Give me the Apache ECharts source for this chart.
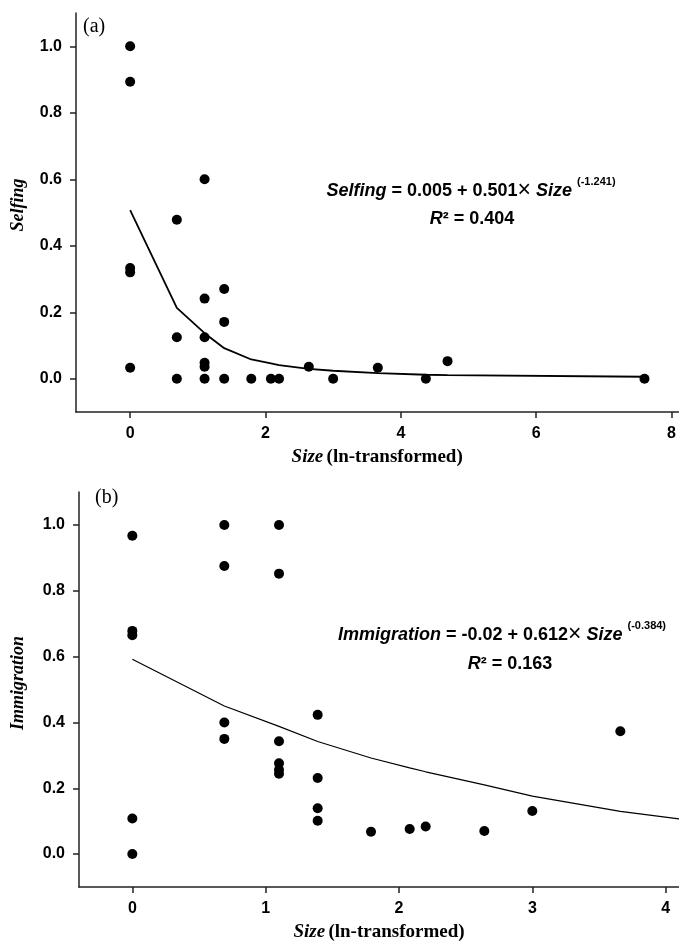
<!DOCTYPE html>
<html lang="en">
<head>
    <meta charset="UTF-8">
    <title>Selfing and immigration vs size</title>
    <script src="https://cdn.jsdelivr.net/npm/echarts@6/dist/echarts.min.js"></script>
    <style>
        html, body { margin: 0; padding: 0; background: #fff; }
    </style>
</head>
<body>

<div id="main" style="width: 679px;height:943px;"></div>

<script>
    // (a) selfing, points
    var selfSize = [0, 0, 0, 0, 0,
        0.69, 0.69, 0.69,
        1.10, 1.10, 1.10, 1.10, 1.10, 1.10,
        1.39, 1.39, 1.39,
        1.79, 2.08, 2.20, 2.64, 3.00, 3.66, 4.37, 4.69, 7.60];
    var selfValue = [1.0, 0.893, 0.333, 0.32, 0.033,
        0.478, 0.125, 0,
        0.6, 0.241, 0.125, 0.048, 0.036, 0,
        0.27, 0.171, 0,
        0, 0, 0, 0.036, 0, 0.033, 0, 0.053, 0];
    // (a) fitted curve
    var selfFitSize = [0, 0.69, 1.10, 1.39, 1.79, 2.08, 2.20, 2.64, 3.00, 3.66, 4.37, 4.69, 7.60];
    var selfFitValue = [0.507, 0.213, 0.137, 0.092, 0.058, 0.046, 0.041, 0.030, 0.024, 0.017, 0.012, 0.011, 0.006];

    // (b) immigration, points
    var immSize = [0, 0, 0, 0, 0,
        0.69, 0.69, 0.69, 0.69,
        1.10, 1.10, 1.10, 1.10, 1.10, 1.10,
        1.39, 1.39, 1.39, 1.39,
        1.79, 2.08, 2.20, 2.64, 3.00, 3.66];
    var immValue = [0.967, 0.678, 0.665, 0.108, 0,
        1.0, 0.875, 0.40, 0.35,
        1.0, 0.852, 0.343, 0.276, 0.256, 0.244,
        0.423, 0.231, 0.139, 0.101,
        0.068, 0.076, 0.084, 0.070, 0.131, 0.373];
    // (b) fitted curve
    var immFitSize = [0, 0.69, 1.10, 1.39, 1.79, 2.08, 2.20, 2.64, 3.00, 3.66, 4.10];
    var immFitValue = [0.592, 0.450, 0.388, 0.342, 0.292, 0.262, 0.250, 0.210, 0.176, 0.130, 0.107];

    // tick labels
    var yTicks = [0, 0.2, 0.4, 0.6, 0.8, 1.0];
    var xTicksA = [0, 2, 4, 6, 8];
    var xTicksB = [0, 1, 2, 3, 4];

    function pairs(xs, ys) {
        return xs.map(function (x, i) {
            return [x, ys[i]];
        });
    }

    var axisColor = '#222';
    var labelFont = {color: '#000', fontWeight: 'bold', fontSize: 16, fontFamily: '"Liberation Sans", Arial, sans-serif'};
    var serif = '"Liberation Serif", "Times New Roman", serif';
    var sans = '"Liberation Sans", Arial, sans-serif';

    function xAxis(grid, min, max, ticks) {
        return {
            type: 'value', gridIndex: grid, min: min, max: max,
            splitLine: {show: false},
            axisLine: {onZero: false, lineStyle: {color: axisColor, width: 1.5}},
            axisTick: {customValues: ticks, length: 6, lineStyle: {color: axisColor, width: 1.5}},
            axisLabel: Object.assign({customValues: ticks, margin: 14}, labelFont),
            name: '{i|Size} {b|(ln-transformed)}',
            nameLocation: 'middle',
            nameGap: 36,
            nameTextStyle: {
                rich: {
                    i: {fontStyle: 'italic', fontWeight: 'bold', fontSize: 19, fontFamily: serif, color: '#000'},
                    b: {fontWeight: 'bold', fontSize: 19, fontFamily: serif, color: '#000'}
                }
            }
        };
    }

    function yAxis(grid) {
        return {
            type: 'value', gridIndex: grid, min: -0.1, max: 1.1,
            splitLine: {show: false},
            axisLine: {show: true, onZero: false, lineStyle: {color: axisColor, width: 1.5}},
            axisTick: {show: true, customValues: yTicks, length: 6, lineStyle: {color: axisColor, width: 1.5}},
            axisLabel: Object.assign({
                customValues: yTicks, margin: 14,
                formatter: function (v) { return v.toFixed(1); }
            }, labelFont)
        };
    }

    // rich styles for equations
    var eqRich = {
        t: {fontWeight: 'bold', fontSize: 18, fontFamily: sans, lineHeight: 30, fill: '#000'},
        i: {fontWeight: 'bold', fontStyle: 'italic', fontSize: 18, fontFamily: sans, lineHeight: 30, fill: '#000'},
        x: {fontWeight: 'normal', fontSize: 23, fontFamily: sans, lineHeight: 30, fill: '#000'},
        s: {fontWeight: 'bold', fontSize: 11, fontFamily: sans, lineHeight: 14, verticalAlign: 'top', fill: '#000'}
    };

    function eqText(x, y, text) {
        return {
            type: 'text', x: x, y: y,
            style: {
                text: text, rich: eqRich, align: 'center', verticalAlign: 'middle',
                font: 'bold 18px ' + sans, fill: '#000'
            }
        };
    }

    var option = {
        backgroundColor: '#fff',
        animation: false,
        grid: [
            {left: 76, top: 13, width: 603, height: 399},
            {left: 79, top: 492, width: 600, height: 400}
        ],
        xAxis: [
            xAxis(0, -0.8, 8.1, xTicksA),
            xAxis(1, -0.4, 4.1, xTicksB)
        ],
        yAxis: [yAxis(0), yAxis(1)],
        graphic: [
            {type: 'text', x: 83, y: 27, style: {text: '(a)', font: '20px ' + serif, fill: '#000', verticalAlign: 'middle'}},
            {type: 'text', x: 95, y: 498, style: {text: '(b)', font: '20px ' + serif, fill: '#000', verticalAlign: 'middle'}},
            {type: 'text', x: 18, y: 205, rotation: Math.PI / 2,
                style: {text: 'Selfing', font: 'italic bold 18px ' + serif, fill: '#000', align: 'center', verticalAlign: 'middle'}},
            {type: 'text', x: 18, y: 683, rotation: Math.PI / 2,
                style: {text: 'Immigration', font: 'italic bold 18px ' + serif, fill: '#000', align: 'center', verticalAlign: 'middle'}},
            eqText(471, 191, '{i|Selfing}{t| = 0.005 + 0.501}{x|×}{i| Size }{s|(-1.241)}'),
            eqText(472, 219, '{i|R}{t|² = 0.404}'),
            eqText(502, 635, '{i|Immigration}{t| = -0.02 + 0.612}{x|×}{i| Size }{s|(-0.384)}'),
            eqText(510, 664, '{i|R}{t|² = 0.163}')
        ],
        series: [
            {
                type: 'line', xAxisIndex: 0, yAxisIndex: 0,
                data: pairs(selfFitSize, selfFitValue),
                showSymbol: false, symbol: 'none',
                lineStyle: {color: '#000', width: 1.8}, z: 1
            },
            {
                type: 'scatter', xAxisIndex: 0, yAxisIndex: 0,
                data: pairs(selfSize, selfValue),
                symbolSize: 10, itemStyle: {color: '#000', opacity: 1}, z: 2
            },
            {
                type: 'line', xAxisIndex: 1, yAxisIndex: 1,
                data: pairs(immFitSize, immFitValue),
                showSymbol: false, symbol: 'none',
                lineStyle: {color: '#000', width: 1.2}, z: 1
            },
            {
                type: 'scatter', xAxisIndex: 1, yAxisIndex: 1,
                data: pairs(immSize, immValue),
                symbolSize: 10, itemStyle: {color: '#000', opacity: 1}, z: 2
            }
        ]
    };

    var myChart = echarts.init(document.getElementById('main'));
    myChart.setOption(option);
</script>

</body>
</html>
